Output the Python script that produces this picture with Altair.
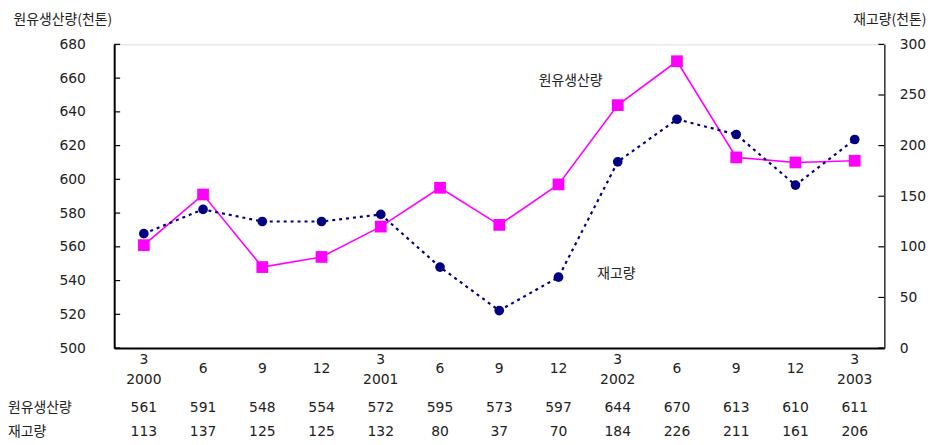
import altair as alt
import pandas as pd

# ---- data ----
months = ["3", "6", "9", "12", "3", "6", "9", "12", "3", "6", "9", "12", "3"]
years = ["2000", "", "", "", "2001", "", "", "", "2002", "", "", "", "2003"]
production = [561, 591, 548, 554, 572, 595, 573, 597, 644, 670, 613, 610, 611]
inventory = [113, 137, 125, 125, 132, 80, 37, 70, 184, 226, 211, 161, 206]
left_ticks = [500, 520, 540, 560, 580, 600, 620, 640, 660, 680]
right_ticks = [0, 50, 100, 150, 200, 250, 300]
row_names = ["원유생산량", "재고량"]
title_left = "원유생산량(천톤)"
title_right = "재고량(천톤)"

W, H = 776, 306
FONT_NUM = "DejaVu Sans, Noto Sans CJK KR"
FONT_KR = "Noto Sans CJK KR, DejaVu Sans"
TXT = "#222222"

periods = [f"p{i:02d}" for i in range(len(months))]
df = pd.DataFrame({
    "period": periods,
    "month": months,
    "year": years,
    "has_year": [bool(y) for y in years],
    "prod": production,
    "inv": inventory,
    "prod_s": [str(v) for v in production],
    "inv_s": [str(v) for v in inventory],
})

x_enc = alt.X("period:N", sort=periods,
              scale=alt.Scale(type="point", padding=0.5),
              axis=alt.Axis(labels=False, ticks=False, title=None, grid=False,
                            domainColor="#000", domainWidth=2))

left_scale = alt.Scale(domain=[500, 680], nice=False, zero=False)
right_scale = alt.Scale(domain=[0, 300], nice=False)

left_axis = alt.Axis(values=left_ticks, ticks=False, grid=False, labelPadding=29,
                     labelFont=FONT_NUM, labelFontSize=14, labelColor=TXT,
                     domainColor="#000", domainWidth=2,
                     title=title_left, titleAngle=0, titleAlign="left",
                     titleBaseline="alphabetic", titleX=-102, titleY=-21,
                     titleFont=FONT_KR, titleFontSize=14, titleFontWeight="normal",
                     titleColor=TXT)
right_axis = alt.Axis(values=right_ticks, ticks=False, grid=False, labelPadding=15,
                      orient="right",
                      labelFont=FONT_NUM, labelFontSize=14, labelColor=TXT,
                      domainColor="#333", domainWidth=1.5,
                      title=title_right, titleAngle=0, titleAlign="right",
                      titleBaseline="alphabetic", titleX=42, titleY=-21,
                      titleFont=FONT_KR, titleFontSize=14, titleFontWeight="normal",
                      titleColor=TXT)

base = alt.Chart(df)

# production (left axis)
prod_line = base.mark_line(color="#FF00FF", strokeWidth=1.6).encode(
    x=x_enc, y=alt.Y("prod:Q", scale=left_scale, axis=left_axis))
prod_pts = base.mark_point(shape="square", filled=True, opacity=1,
                           color="#FF00FF", size=140).encode(
    x=x_enc, y=alt.Y("prod:Q", scale=left_scale, axis=left_axis))
lt_df = pd.DataFrame({"prod": left_ticks})
left_tk = alt.Chart(lt_df).mark_rule(color="#000", strokeWidth=1.2).encode(
    y=alt.Y("prod:Q", scale=left_scale, axis=left_axis),
    x=alt.value(0), x2=alt.value(6))
left_layer = alt.layer(prod_line, prod_pts, left_tk)

# inventory (right axis)
inv_line = base.mark_line(color="#000080", strokeWidth=2.2,
                          strokeDash=[3, 4]).encode(
    x=x_enc, y=alt.Y("inv:Q", scale=right_scale, axis=right_axis))
inv_pts = base.mark_point(shape="circle", filled=True, opacity=1,
                          color="#000080", size=95).encode(
    x=x_enc, y=alt.Y("inv:Q", scale=right_scale, axis=right_axis))
rt_df = pd.DataFrame({"inv": right_ticks})
right_tk = alt.Chart(rt_df).mark_rule(color="#000", strokeWidth=1.2).encode(
    y=alt.Y("inv:Q", scale=right_scale, axis=right_axis),
    x=alt.value(W - 6), x2=alt.value(W))
right_layer = alt.layer(inv_line, inv_pts, right_tk)

txt_kw = dict(baseline="middle", font=FONT_NUM, fontSize=14, color=TXT)

# category labels (month, with year underneath at each March)
month_single = base.transform_filter("!datum.has_year").mark_text(**txt_kw).encode(
    x=x_enc, y=alt.value(H + 21), text="month:N")
month_top = base.transform_filter("datum.has_year").mark_text(**txt_kw).encode(
    x=x_enc, y=alt.value(H + 12), text="month:N")
year_lbl = base.transform_filter("datum.has_year").mark_text(**txt_kw).encode(
    x=x_enc, y=alt.value(H + 32), text="year:N")

# data table below the plot
prod_row = base.mark_text(**txt_kw).encode(
    x=x_enc, y=alt.value(H + 60), text="prod_s:N")
inv_row = base.mark_text(**txt_kw).encode(
    x=x_enc, y=alt.value(H + 85), text="inv_s:N")
hdr_df = pd.DataFrame({"name": row_names, "row": [0, 1]})
kr_kw = dict(baseline="middle", font=FONT_KR, fontSize=14, color=TXT)
hdr1 = alt.Chart(hdr_df[hdr_df.row == 0]).mark_text(align="left", **kr_kw).encode(
    x=alt.value(-107), y=alt.value(H + 60), text="name:N")
hdr2 = alt.Chart(hdr_df[hdr_df.row == 1]).mark_text(align="left", **kr_kw).encode(
    x=alt.value(-107), y=alt.value(H + 85), text="name:N")

# in-plot annotations
ann_df = pd.DataFrame({"t": ["원유생산량", "재고량"]})
ann1 = alt.Chart(ann_df.iloc[[0]]).mark_text(**kr_kw).encode(
    x=alt.value(460), y=alt.value(37), text="t:N")
ann2 = alt.Chart(ann_df.iloc[[1]]).mark_text(**kr_kw).encode(
    x=alt.value(506), y=alt.value(231), text="t:N")

chart = alt.layer(
    left_layer, right_layer, month_single, month_top, year_lbl,
    prod_row, inv_row, hdr1, hdr2, ann1, ann2
).resolve_scale(y="independent").properties(
    width=W, height=H,
    padding={"top": 3, "left": 0, "right": 2, "bottom": 0}
).configure_view(stroke="#555", strokeWidth=1.2).configure(background="white")

chart.save("out.html", embed_options={"renderer": "svg", "actions": False})
